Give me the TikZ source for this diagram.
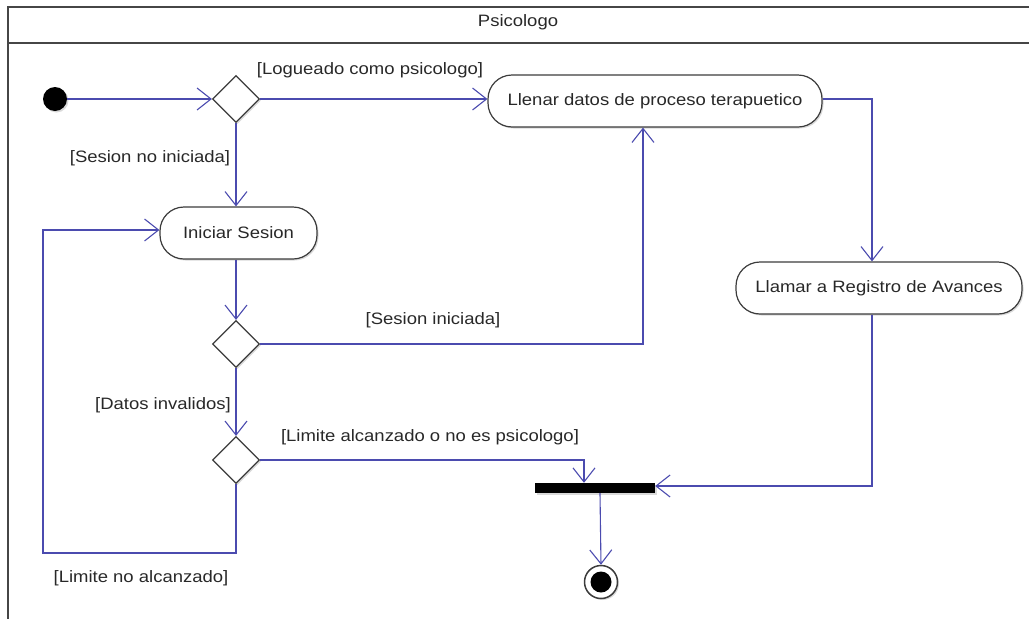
\documentclass[tikz,border=0pt]{standalone}
\usepackage{fontspec}
\setmainfont{Liberation Sans}[FakeStretch=1.12]
\usetikzlibrary{arrows.meta,shapes.geometric,shadows}

\definecolor{flowc}{RGB}{75,75,175}
\definecolor{edgec}{RGB}{60,60,60}
\definecolor{txtc}{RGB}{40,40,40}
\definecolor{framec}{RGB}{70,70,70}

\tikzset{
  flow/.style={draw=flowc, line width=1.1pt,
    -{Straight Barb[length=14pt,width=22pt,line width=1.1pt]}},
  softshadow/.style={drop shadow={shadow xshift=1.5pt, shadow yshift=-1.5pt, opacity=0.3}},
  act/.style={draw=edgec, line width=1.2pt, fill=white, rounded corners=24pt,
    minimum height=52pt, inner sep=0pt, softshadow},
  choice/.style={diamond, draw=edgec, line width=1.2pt, fill=white,
    minimum width=47pt, minimum height=47pt, inner sep=0pt, softshadow},
  guard/.style={inner sep=0pt, text=txtc},
  frameline/.style={draw=framec, line width=1.8pt},
  startnode/.style={circle, fill=black, minimum size=24pt, inner sep=0pt, softshadow},
  endnode/.style={circle, draw=edgec, line width=1.5pt, fill=white,
    minimum size=33pt, inner sep=0pt, softshadow,
    path picture={\fill[black] (path picture bounding box.center) circle (10.5pt);}},
  barnode/.style={fill=black, minimum width=120pt, minimum height=10pt,
    inner sep=0pt, softshadow}
}

\begin{document}
\begin{tikzpicture}[x=1pt, y=-1pt, font=\fontsize{16.5}{19}\selectfont, text=txtc]
\useasboundingbox (0,0) rectangle (1029,619);

% swimlane frame
\draw[frameline] (1029,7) -- (8,7) -- (8,619);
\draw[frameline] (8,43) -- (1029,43);
\node[guard] (lane) at (518,22) {Psicologo};

% nodes
\node[startnode] (start) at (55,99) {};
\node[choice] (d1) at (236,99) {};
\node[act, minimum width=334pt] (llenar) at (655,101) {Llenar datos de proceso terapuetico};
\node[act, minimum width=157pt] (iniciar) at (238.5,233) {Iniciar Sesion};
\node[choice] (d2) at (236,344) {};
\node[choice] (d3) at (236,460) {};
\node[act, minimum width=286pt] (llamar) at (879,288) {Llamar a Registro de Avances};
\node[barnode] (bar) at (595,488) {};
\node[endnode] (end) at (601,582) {};
\coordinate (loop) at (43,553);

% connectors (yshift is a canvas shift: positive moves up)
\draw[flow] (start) -- (d1);
\draw[flow] (d1.east) -- (d1.east -| llenar.west);
\draw[flow] (d1.south) -- (d1.south |- iniciar.north);
\draw[flow] (d1.south |- iniciar.south) -- (d2.north);
\draw[flow] (d2.east) -| ([xshift=-12pt]llenar.south);
\draw[flow] (d2.south) -- (d3.north);
\draw[flow] (d3.east) -| ([xshift=-11pt]bar.north);
\draw[flow] (d3.south) |- (loop) |- ([yshift=3pt]iniciar.west);
\draw[flow] ([yshift=2pt]llenar.east) -| ([xshift=-7pt]llamar.north);
\draw[flow] ([xshift=-7pt]llamar.south) |- ([yshift=2pt]bar.east);
\draw[flow] ([xshift=5pt]bar.south) -- (end.north);

% guards
\node[guard] (g1) at (370,70) {[Logueado como psicologo]};
\node[guard] (g2) at (150,158) {[Sesion no iniciada]};
\node[guard] (g3) at (433,320) {[Sesion iniciada]};
\node[guard] (g4) at (163,405) {[Datos invalidos]};
\node[guard] (g5) at (430,437) {[Limite alcanzado o no es psicologo]};
\node[guard] (g6) at (141,578) {[Limite no alcanzado]};
\end{tikzpicture}
\end{document}
